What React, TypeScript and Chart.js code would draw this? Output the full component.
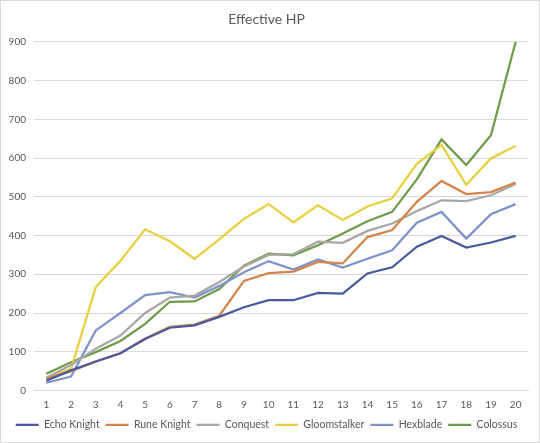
import React, { useEffect, useRef } from "react";
import { Chart, registerables } from "chart.js";

Chart.register(...registerables);

const levels = ["1","2","3","4","5","6","7","8","9","10","11","12","13","14","15","16","17","18","19","20"];
const echoKnight = [25, 52, 75, 96, 133, 162, 168, 190, 215, 233, 233, 252, 250, 302, 318, 371, 399, 369, 382, 399];
const runeKnight = [30, 50, 75, 96, 134, 164, 170, 193, 283, 303, 307, 332, 328, 396, 414, 487, 541, 507, 512, 537];
const conquest = [33, 66, 108, 142, 200, 240, 245, 280, 320, 350, 352, 384, 381, 412, 431, 463, 491, 489, 504, 533];
const gloomstalker = [32, 56, 267, 335, 416, 385, 340, 390, 443, 481, 434, 478, 440, 475, 496, 585, 634, 531, 599, 632];
const hexblade = [20, 36, 155, 200, 246, 254, 240, 270, 305, 334, 312, 338, 317, 340, 362, 433, 461, 392, 455, 481];
const colossus = [43, 73, 99, 128, 172, 229, 230, 262, 322, 353, 349, 375, 405, 437, 461, 545, 648, 582, 659, 900];

const seriesNames = ["Echo Knight", "Rune Knight", "Conquest", "Gloomstalker", "Hexblade", "Colossus"];
const seriesColors = ["#4B5A9E", "#D6844A", "#A8A8A8", "#E8D03E", "#7F93CB", "#6F9B4A"];
const seriesValues = [echoKnight, runeKnight, conquest, gloomstalker, hexblade, colossus];

export default function App() {
  const ref = useRef<HTMLCanvasElement | null>(null);
  useEffect(() => {
    document.body.style.margin = "0";
    if (!ref.current) return;
    const font = "Lato, 'Open Sans', sans-serif";
    const chart = new Chart(ref.current, {
      type: "line",
      data: {
        labels: levels,
        datasets: seriesValues.map((vals, i) => ({
          label: seriesNames[i],
          data: vals,
          borderColor: seriesColors[i],
          backgroundColor: seriesColors[i],
          borderWidth: 2.25,
          pointRadius: 0,
          pointHoverRadius: 0,
          tension: 0,
          fill: false,
        })),
      },
      options: {
        animation: false,
        responsive: false,
        maintainAspectRatio: false,
        layout: { padding: { left: 4, right: 11, top: 6, bottom: 2 } },
        plugins: {
          title: {
            display: true,
            text: "Effective HP",
            color: "#595959",
            font: { family: font, size: 14, weight: "normal" },
            padding: { top: 4, bottom: 14 },
          },
          legend: {
            display: true,
            position: "bottom",
            labels: {
              usePointStyle: true,
              pointStyle: "line",
              pointStyleWidth: 23,
              boxWidth: 23,
              boxHeight: 8,
              color: "#595959",
              font: { family: font, size: 10.5 },
              padding: 6,
            },
          },
          tooltip: { enabled: false },
        },
        scales: {
          x: {
            offset: true,
            grid: { display: false },
            border: { display: true, color: "#D9D9D9", width: 1 },
            ticks: { color: "#595959", font: { family: font, size: 10 }, padding: 0, maxRotation: 0 },
            afterFit: (scale: any) => {
              scale.height = scale.height + 3;
            },
          },
          y: {
            min: 0,
            max: 900,
            ticks: { stepSize: 100, color: "#595959", font: { family: font, size: 10 }, padding: 8 },
            grid: { color: "#D9D9D9", drawTicks: false },
            border: { display: false },
            afterFit: (scale: any) => {
              scale.width = 29;
            },
          },
        },
      },
    });
    return () => chart.destroy();
  }, []);
  return (
    <div style={{ width: 540, height: 443, boxSizing: "border-box", border: "1px solid #D9D9D9", background: "#fff" }}>
      <canvas ref={ref} width={538} height={441} style={{ display: "block" }} />
    </div>
  );
}
